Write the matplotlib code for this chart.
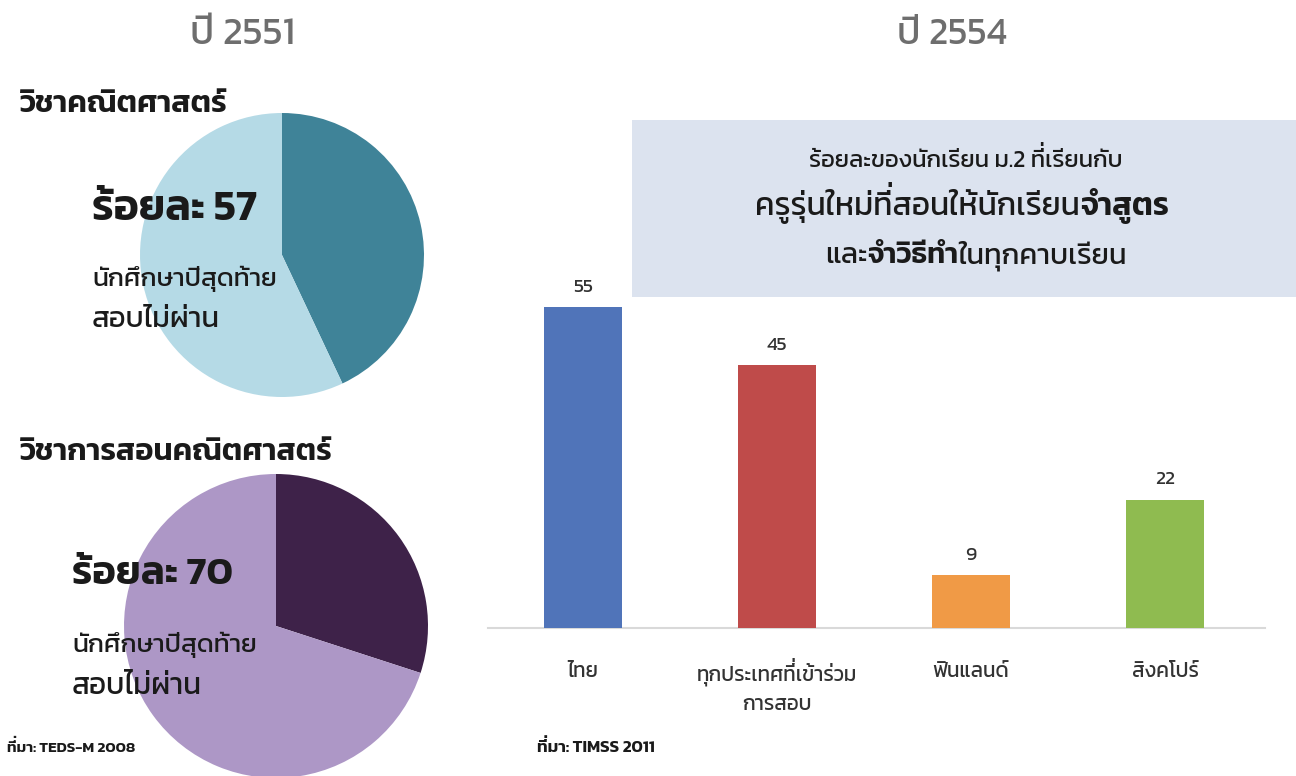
import numpy as np
import matplotlib
matplotlib.use("Agg")
import matplotlib.pyplot as plt
from matplotlib.patches import Rectangle

FONT = ['Kanit', 'DejaVu Sans']
plt.rcParams['font.family'] = FONT

# ---------------- data ----------------
pie1_values = [43, 57]          # ร้อยละ 57 สอบไม่ผ่าน
pie1_colors = ['#3f8398', '#b5dae6']
pie2_values = [30, 70]          # ร้อยละ 70 สอบไม่ผ่าน
pie2_colors = ['#3e2249', '#ad97c6']

bar_categories = ['ไทย', 'ทุกประเทศที่เข้าร่วม\nการสอบ', 'ฟินแลนด์', 'สิงคโปร์']
bar_values = [55, 45, 9, 22]
bar_colors = ['#5074b9', '#bf4b4a', '#f09a46', '#8fbb50']

W, H = 1296, 776
fig = plt.figure(figsize=(W / 100, H / 100), dpi=100)
fig.patch.set_facecolor('white')
renderer = fig.canvas.get_renderer()

UPPER_VOWELS = 'ัิีึื'
TONES = '่้๊๋'


def fx(x):
    return x / W


def fy(y):
    return 1 - y / H


def fit(t, target_w):
    """scale font size so that text t spans target_w pixels"""
    for _ in range(3):
        w = t.get_window_extent(renderer).width
        t.set_fontsize(t.get_fontsize() * target_w / w)
    return t


AX, AY = 0.3 * W, 0.5 * H   # anchor (display px) used for ink measurements


def ink_mask(s, fp):
    tf = plt.figure(figsize=(W / 100, H / 100), dpi=100)
    tf.patch.set_facecolor('white')
    tf.text(AX / W, AY / H, s, fontproperties=fp, ha='left', va='baseline', color='black')
    tf.canvas.draw()
    img = np.asarray(tf.canvas.buffer_rgba())[:, :, 0]
    plt.close(tf)
    return img < 190


def fix_tones(t):
    """matplotlib has no Thai shaping: add a raised tone mark above an upper vowel."""
    s = t.get_text()
    if not any(s[i] in TONES and s[i - 1] in UPPER_VOWELS for i in range(1, len(s))):
        return
    fp = t.get_fontproperties().copy()
    fp.set_size(t.get_fontsize())
    em_px = t.get_fontsize() * 100 / 72
    _, layout, _ = t._get_layout(renderer)
    posx, posy = t.get_transform().transform(t.get_unitless_position())
    for li, line in enumerate(s.split('\n')):
        entry = layout[li]
        if len(entry) == 2:
            lx, ly = entry[1][-2], entry[1][-1]
        else:
            lx, ly = entry[-2], entry[-1]
        for i in range(1, len(line)):
            if not (line[i] in TONES and line[i - 1] in UPPER_VOWELS):
                continue
            with_v = ink_mask(line[:i], fp)
            without_v = ink_mask(line[:i - 1], fp) if i - 1 > 0 else np.zeros_like(with_v)
            diff = with_v & ~without_v
            rows, cols = np.nonzero(diff)
            if len(rows) == 0:
                continue
            v_top = (H - AY) - rows.min()            # px above baseline
            v_right = cols.max() + 1 - AX             # px right of pen origin
            m = ink_mask(line[i], fp)
            mr, mc = np.nonzero(m)
            if len(mr) == 0:
                continue
            m_bot = (H - AY) - mr.max() - 1           # px above anchor baseline
            m_right = mc.max() + 1 - AX
            gap = 0.07 * em_px
            ax_x = posx + lx + v_right - m_right
            ax_y = posy + ly + v_top + gap - m_bot
            fig.text(ax_x / W, ax_y / H, line[i], fontproperties=fp,
                     color=t.get_color(), ha='left', va='baseline', zorder=t.get_zorder())


def pie_axes(cx, cy, r):
    return fig.add_axes([fx(cx - r), fy(cy + r), 2 * r / W, 2 * r / H])


all_texts = []

# ---------------- titles ----------------
for label, cx, w in [('ปี 2551', 243, 105), ('ปี 2554', 952, 110)]:
    t = fig.text(fx(cx), fy(35), label, ha='center', va='center', fontsize=22,
                 color='#6e6e6e', fontweight='normal')
    fit(t, w)

# ---------------- pie 1 ----------------
ax1 = pie_axes(282, 255, 142)
ax1.pie(pie1_values, colors=pie1_colors, startangle=90, counterclock=False,
        wedgeprops=dict(linewidth=0))
ax1.set_xlim(-1, 1)
ax1.set_ylim(-1, 1)
ax1.set_aspect('auto')
ax1.axis('off')

# ---------------- pie 2 ----------------
ax2 = pie_axes(276, 626, 152)
ax2.pie(pie2_values, colors=pie2_colors, startangle=90, counterclock=False,
        wedgeprops=dict(linewidth=0))
ax2.set_xlim(-1, 1)
ax2.set_ylim(-1, 1)
ax2.set_aspect('auto')
ax2.axis('off')

# pie texts: (text, left, center_y, width, weight)
pie_texts = [
    ('วิชาคณิตศาสตร์', 20, 104, 207, 'semibold'),
    ('ร้อยละ 57', 92, 210, 165, 'semibold'),
    ('นักศึกษาปีสุดท้าย', 92, 279, 186, 'normal'),
    ('สอบไม่ผ่าน', 92, 320, 128, 'normal'),
    ('วิชาการสอนคณิตศาสตร์', 20, 452, 312, 'semibold'),
    ('ร้อยละ 70', 72, 575, 161, 'semibold'),
    ('นักศึกษาปีสุดท้าย', 72, 645, 186, 'normal'),
    ('สอบไม่ผ่าน', 72, 687, 130, 'normal'),
    ('ที่มา: TEDS-M 2008', 7, 748, 128, 'semibold'),
    ('ที่มา: TIMSS 2011', 537, 748, 118, 'semibold'),
]
for s, x, y, w, wt in pie_texts:
    t = fig.text(fx(x), fy(y), s, ha='left', va='center', color='#1a1a1a',
                 fontsize=16, fontweight=wt, zorder=10)
    fit(t, w)
    all_texts.append(t)

# ---------------- highlight box ----------------
fig.patches.append(Rectangle((fx(632), fy(297)), fx(1296) - fx(632), fy(120) - fy(297),
                             transform=fig.transFigure, facecolor='#dce3ef',
                             edgecolor='none', zorder=0))


def mixed_line(parts, cx, cy, target_w):
    texts = []
    for s, bold in parts:
        t = fig.text(0, 0, s, fontsize=16, fontweight='semibold' if bold else 'normal',
                     ha='left', va='center', color='#1a1a1a', zorder=10)
        texts.append(t)
    for _ in range(3):
        tot = sum(t.get_window_extent(renderer).width for t in texts)
        for t in texts:
            t.set_fontsize(t.get_fontsize() * target_w / tot)
    widths = [t.get_window_extent(renderer).width for t in texts]
    x = cx - sum(widths) / 2
    for t, w in zip(texts, widths):
        t.set_position((fx(x), fy(cy)))
        x += w
    all_texts.extend(texts)


mixed_line([('ร้อยละของนักเรียน ม.2 ที่เรียนกับ', False)], 966, 161, 313)
mixed_line([('ครูรุ่นใหม่ที่สอนให้นักเรียน', False), ('จำสูตร', True)], 962, 206, 415)
mixed_line([('และ', False), ('จำวิธีทำ', True), ('ในทุกคาบเรียน', False)], 976, 256, 303)

# ---------------- bar chart ----------------
base_px, top_px = 628, 120
px_per_unit = (628 - 307) / 55
axb = fig.add_axes([fx(488), fy(base_px), fx(1265) - fx(488), (base_px - top_px) / H])
axb.patch.set_alpha(0)
pos = list(range(len(bar_values)))
bars = axb.bar(pos, bar_values, width=0.4, color=bar_colors, zorder=3)
axb.set_xlim(-0.49, 3.515)
axb.set_ylim(0, (base_px - top_px) / px_per_unit)
for b, v in zip(bars, bar_values):
    axb.annotate(str(v), (b.get_x() + b.get_width() / 2, v), xytext=(0, 8),
                 textcoords='offset points', ha='center', va='bottom',
                 fontsize=14, color='#333333')
for s in ['top', 'right', 'left']:
    axb.spines[s].set_visible(False)
axb.spines['bottom'].set_color('#d9d9d9')
axb.spines['bottom'].set_linewidth(1.5)
axb.set_yticks([])
axb.set_xticks([])

# category labels under the bars (x in data units, y in pixels below the axis)
cat_y = -(663 - base_px) / (base_px - top_px)
cat_texts = []
for p, c in zip(pos, bar_categories):
    t = axb.text(p, cat_y, c, transform=axb.get_xaxis_transform(), ha='center',
                 va='top', fontsize=12, color='#333333', linespacing=1.65)
    cat_texts.append(t)
for _ in range(3):
    w = cat_texts[1].get_window_extent(renderer).width
    fs = cat_texts[1].get_fontsize() * 160 / w
    for t in cat_texts:
        t.set_fontsize(fs)
all_texts.extend(cat_texts)

for t in all_texts:
    fix_tones(t)

fig.savefig('out.png', dpi=100, facecolor='white')
